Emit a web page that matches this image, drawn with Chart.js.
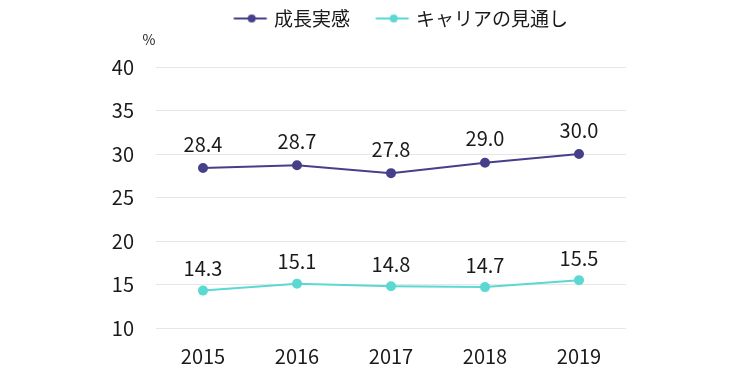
<!DOCTYPE html>
<html><head><meta charset="utf-8">
<script src="https://cdn.jsdelivr.net/npm/chart.js@4/dist/chart.umd.min.js"></script>
<style>html,body{margin:0;padding:0;background:#fff}#wrap{width:750px;height:381px}</style>
</head><body><div id="wrap"><canvas id="c"></canvas></div>
<script>
const categories = ['2015','2016','2017','2018','2019'];
const growth = [28.4, 28.7, 27.8, 29.0, 30.0];
const career = [14.3, 15.1, 14.8, 14.7, 15.5];
const seriesNames = ['成長実感','キャリアの見通し'];
const yTicks = [10,15,20,25,30,35,40];
const colors = ['#463f8a','#5cd8d2'];
const labelOffsets = [24, 22];
const FONT = '"Noto Sans CJK JP", "Noto Sans", sans-serif';

function legendIcon(color){
  const c = document.createElement('canvas');
  c.width = 64; c.height = 10;
  const x = c.getContext('2d');
  x.strokeStyle = color; x.lineWidth = 2;
  x.beginPath(); x.moveTo(26.5,5); x.lineTo(59.5,5); x.stroke();
  x.fillStyle = color; x.beginPath(); x.arc(44.5,5,4,0,Math.PI*2); x.fill();
  return c;
}
const icons = colors.map(legendIcon);

const labelPlugin = {
  id:'labels',
  afterDatasetsDraw(chart){
    const ctx = chart.ctx;
    ctx.save();
    ctx.font = '20px ' + FONT;
    ctx.fillStyle = '#1a1a1a';
    ctx.textAlign = 'center';
    ctx.textBaseline = 'middle';
    chart.data.datasets.forEach((ds,i)=>{
      chart.getDatasetMeta(i).data.forEach((pt,j)=>{
        ctx.fillText(ds.data[j].toFixed(1), pt.x, pt.y - labelOffsets[i]);
      });
    });
    const a = chart.chartArea;
    ctx.font = '14px ' + FONT;
    ctx.fillText('%', a.left - 7, a.top - 27);
    ctx.restore();
  }
};

new Chart(document.getElementById('c'), {
  type:'line',
  data:{
    labels: categories,
    datasets:[
      {label:seriesNames[0], data:growth, borderColor:colors[0], backgroundColor:colors[0], borderWidth:2, pointRadius:4, pointHoverRadius:4},
      {label:seriesNames[1], data:career, borderColor:colors[1], backgroundColor:colors[1], borderWidth:2, pointRadius:4, pointHoverRadius:4}
    ]
  },
  options:{
    responsive:true, maintainAspectRatio:false, animation:false,
    layout:{padding:{left:0, right:124, top:3, bottom:0}},
    plugins:{
      legend:{
        position:'top', fullSize:false,
        labels:{
          usePointStyle:true, pointStyleWidth:50.5,
          font:{family:FONT, size:19}, color:'#1a1a1a',
          padding:6,
          generateLabels(chart){
            return chart.data.datasets.map((ds,i)=>({text:ds.label, pointStyle:icons[i], fillStyle:colors[i], strokeStyle:colors[i], lineWidth:0, datasetIndex:i, hidden:false, fontColor:'#1a1a1a'}));
          }
        }
      },
      title:{display:true, text:' ', weight:500, font:{size:10}, padding:{top:17, bottom:0}},
      tooltip:{enabled:false}
    },
    scales:{
      x:{
        offset:true,
        grid:{display:false, drawTicks:false},
        border:{display:false},
        ticks:{font:{family:FONT, size:20}, color:'#1a1a1a', padding:16},
        afterFit(ax){ ax.height = 53; }
      },
      y:{
        min:10, max:40,
        afterBuildTicks(ax){ ax.ticks = yTicks.map(v=>({value:v})); },
        grid:{color:'#e6e6e6', lineWidth:1, drawTicks:false},
        border:{display:false},
        ticks:{font:{family:FONT, size:20}, color:'#1a1a1a', padding:22},
        afterFit(ax){ ax.width = 156; }
      }
    }
  },
  plugins:[labelPlugin]
});
</script></body></html>
